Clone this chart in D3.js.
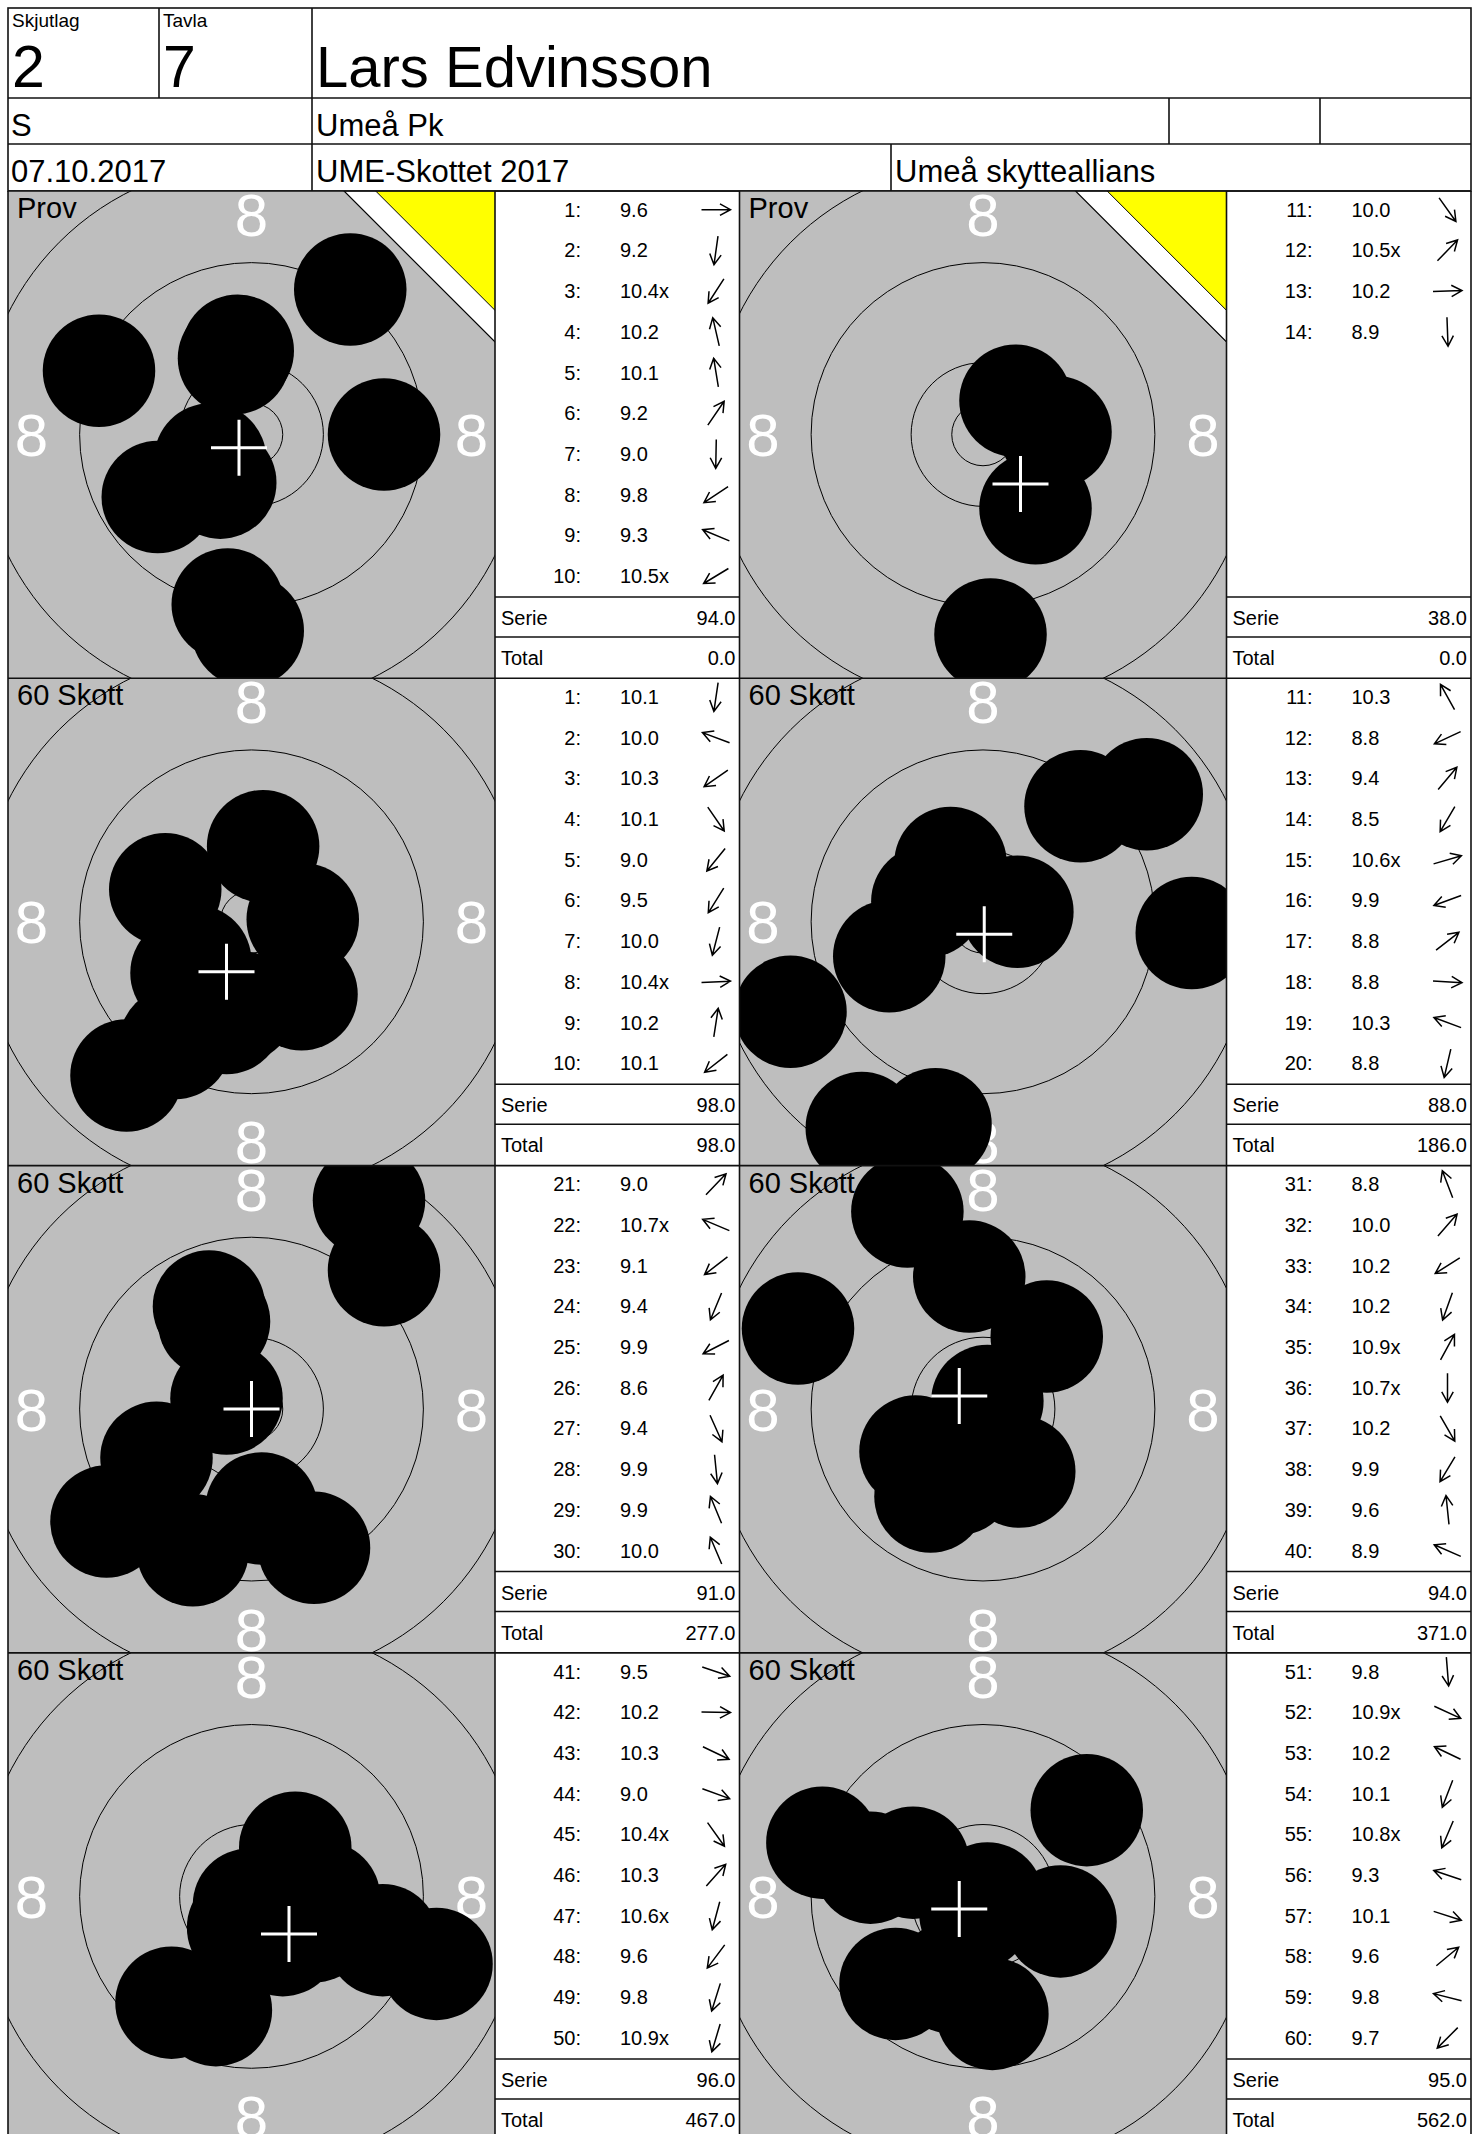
<!DOCTYPE html>
<html><head><meta charset="utf-8">
<script src="https://cdn.jsdelivr.net/npm/d3@7"></script>
<style>
body{margin:0;background:#fff}
text{font-family:"Liberation Sans",Arial,Helvetica,sans-serif;fill:#000}
</style>
</head><body>
<svg id="c" width="1478" height="2134"></svg>
<script>
// ---------- header data ----------
const headerLabels = ["Skjutlag", "Tavla"];
const headerValues = ["2", "7"];
const shooterName = "Lars Edvinsson";
const shooterClass = "S";
const clubName = "Umeå Pk";
const eventDate = "07.10.2017";
const competition = "UME-Skottet 2017";
const organizer = "Umeå skytteallians";

// ---------- panel data ----------
const panelTitles = ["Prov", "Prov", "60 Skott", "60 Skott", "60 Skott", "60 Skott", "60 Skott", "60 Skott"];
const panelSighter = [true, true, false, false, false, false, false, false];
const panelShotStart = [0, 10, 0, 10, 20, 30, 40, 50];
const panelShotCount = [10, 4, 10, 10, 10, 10, 10, 10];
const serieValues = ["94.0", "38.0", "98.0", "88.0", "91.0", "94.0", "96.0", "95.0"];
const totalValues = ["0.0", "0.0", "98.0", "186.0", "277.0", "371.0", "467.0", "562.0"];

// sighting shots: score, x (mm, right +), y (mm, up +)
const provScores = ["9.6","9.2","10.4x","10.2","10.1","9.2","9.0","9.8","9.3","10.5x","10.0","10.5x","10.2","8.9"];
const provX = [10.6,-1.9,-2.5,-1.4,-1.1,7.9,-0.3,-7.5,-12.2,-3.3,4.2,2.6,5.8,0.6];
const provY = [0.0,-13.6,-3.85,6.1,6.7,11.6,-15.7,-5.0,5.1,-2.0,-5.9,2.7,0.2,-16.0];

// match shots
const matchScores = [
 "10.1","10.0","10.3","10.1","9.0","9.5","10.0","10.4x","10.2","10.1",
 "10.3","8.8","9.4","8.5","10.6x","9.9","8.8","8.8","10.3","8.8",
 "9.0","10.7x","9.1","9.4","9.9","8.6","9.4","9.9","9.9","10.0",
 "8.8","10.0","10.2","10.2","10.9x","10.7x","10.2","9.9","9.6","8.9",
 "9.5","10.2","10.3","9.0","10.4x","10.3","10.6x","9.6","9.8","10.9x",
 "9.8","10.9x","10.2","10.1","10.8x","9.3","10.1","9.6","9.8","9.7"];
const matchX = [
 -1.0,-6.9,-4.5,4.0,-10.0,-6.1,-2.0,4.1,0.93,-5.2,
 -2.6,-15.4,7.8,-9.7,2.75,-7.5,13.1,16.7,-4.45,-3.8,
 10.6,-2.0,-11.6,-4.7,-7.6,9.4,5.0,0.8,-3.4,-3.0,
 -6.05,5.1,-5.4,-2.0,0.35,0.0,2.9,-4.2,-1.1,-14.8,
 10.5,5.8,5.0,14.8,2.5,3.5,-0.67,-6.4,-2.85,-0.2,
 0.75,0.35,-5.6,-2.5,-0.6,-12.85,6.2,8.3,-9.0,-7.0];
const matchY = [
 -6.8,2.6,-3.15,-5.8,-12.3,-9.7,-7.7,0.2,6.05,-4.1,
 4.7,-7.2,9.25,-16.5,0.8,-2.75,10.2,-0.9,1.65,-16.2,
 11.1,0.85,-9.0,-11.3,-3.9,16.7,-11.1,-7.95,8.2,7.0,
 15.8,5.8,-3.4,-5.6,0.64,-2.4,-5.0,-7.0,10.6,6.45,
 -3.5,-0.1,-2.4,-5.4,-3.5,3.9,-2.5,-8.5,-9.1,-0.67,
 -9.4,-0.16,2.7,-6.5,-1.4,4.3,-2.0,6.9,2.3,-7.0];

// mean point of impact per panel (mm)
const crossX = [-1.0, 3.0, -2.0, 0.1, 0.0, -1.9, 3.0, -1.9];
const crossY = [-1.05, -3.95, -4.0, -1.0, 0.0, 1.05, -3.0, -1.0];

// target geometry (mm): inner ten, 10, 9, 8, 7 rings
const ringRadii = [2.5, 5.75, 13.75, 21.75, 29.75];
const ringLabel = "8";
const ringLabelRadius = 17.6;
const shotRadius = 4.5;

// ---------- layout ----------
const svg = d3.select("#c");
const LINE = "#111";
const L = 8, R = 1471;
const headerY = [8, 98, 144, 191];
const T = 487;            // target square size
const TW = (R - L) / 2 - T; // table width
const rowStep = 487.3;
const halfMM = 19.48;

const defs = svg.append("defs");

// ---------- header ----------
const hdr = svg.append("g");
hdr.append("rect").attr("x", L).attr("y", headerY[0]).attr("width", R - L).attr("height", headerY[3] - headerY[0])
  .attr("fill", "none").attr("stroke", LINE).attr("stroke-width", 1.6);
[headerY[1], headerY[2]].forEach(yy => hdr.append("line").attr("x1", L).attr("x2", R).attr("y1", yy).attr("y2", yy)
  .attr("stroke", LINE).attr("stroke-width", 1.6));
const vlines = [[159, headerY[0], headerY[1]], [312, headerY[0], headerY[3]], [1169, headerY[1], headerY[2]],
  [1320, headerY[1], headerY[2]], [891, headerY[2], headerY[3]]];
vlines.forEach(v => hdr.append("line").attr("x1", v[0]).attr("x2", v[0]).attr("y1", v[1]).attr("y2", v[2])
  .attr("stroke", LINE).attr("stroke-width", 1.6));

const hx = [12, 163];
headerLabels.forEach((t, i) => hdr.append("text").attr("x", hx[i]).attr("y", 27).attr("font-size", 19).text(t));
headerValues.forEach((t, i) => hdr.append("text").attr("x", hx[i]).attr("y", 87).attr("font-size", 59).text(t));
hdr.append("text").attr("x", 316).attr("y", 87).attr("font-size", 58).text(shooterName);
hdr.append("text").attr("x", 11).attr("y", 136).attr("font-size", 31).text(shooterClass);
hdr.append("text").attr("x", 316).attr("y", 136).attr("font-size", 31).text(clubName);
hdr.append("text").attr("x", 11).attr("y", 182).attr("font-size", 31).text(eventDate);
hdr.append("text").attr("x", 316).attr("y", 182).attr("font-size", 31).text(competition);
hdr.append("text").attr("x", 895).attr("y", 182).attr("font-size", 31).text(organizer);

// ---------- panels ----------
panelTitles.forEach((title, i) => {
  const r = Math.floor(i / 2), c = i % 2;
  const x0 = L + c * (T + TW);
  const y0 = headerY[3] + r * rowStep;
  const sighter = panelSighter[i];
  const scores = sighter ? provScores : matchScores;
  const xs = sighter ? provX : matchX;
  const ys = sighter ? provY : matchY;
  const idx = d3.range(panelShotStart[i], panelShotStart[i] + panelShotCount[i]);

  const sx = d3.scaleLinear().domain([-halfMM, halfMM]).range([0, T]);
  const sy = d3.scaleLinear().domain([halfMM, -halfMM]).range([0, T]);
  const sr = d3.scaleLinear().domain([0, halfMM]).range([0, T / 2]);

  const clipId = "clip" + i;
  defs.append("clipPath").attr("id", clipId).append("rect").attr("width", T).attr("height", T);

  const tg = svg.append("g").attr("transform", `translate(${x0},${y0})`).attr("clip-path", `url(#${clipId})`);
  tg.append("rect").attr("width", T).attr("height", T).attr("fill", "#bebebe");
  tg.append("text").attr("x", 9).attr("y", 27).attr("font-size", 29).text(title);

  tg.selectAll("circle.ring").data(ringRadii).join("circle").attr("class", "ring")
    .attr("cx", sx(0)).attr("cy", sy(0)).attr("r", d => sr(d))
    .attr("fill", "none").attr("stroke", "#000").attr("stroke-width", 1);

  const labelPos = [[0, ringLabelRadius], [0, -ringLabelRadius], [-ringLabelRadius, 0], [ringLabelRadius, 0]];
  tg.selectAll("text.rl").data(labelPos).join("text").attr("class", "rl")
    .attr("x", d => sx(d[0])).attr("y", d => sy(d[1]) + 21.5)
    .attr("text-anchor", "middle").attr("font-size", 60).style("fill", "#fff").text(ringLabel);

  if (sighter) {
    const a = T * 0.31, b = T * 0.245;
    tg.append("path").attr("d", `M${T - a},0 L${T + 2},0 L${T + 2},${a + 2} Z`)
      .attr("fill", "#fff").attr("stroke", "#000").attr("stroke-width", 1.2);
    tg.append("path").attr("d", `M${T - b},0 L${T + 2},0 L${T + 2},${b + 2} Z`)
      .attr("fill", "#ffff00").attr("stroke", "#000").attr("stroke-width", 1);
  }

  tg.selectAll("circle.shot").data(idx).join("circle").attr("class", "shot")
    .attr("cx", k => sx(xs[k])).attr("cy", k => sy(ys[k])).attr("r", sr(shotRadius)).attr("fill", "#000");

  const cxp = sx(crossX[i]), cyp = sy(crossY[i]), arm = 28;
  tg.append("path").attr("d", `M${cxp - arm},${cyp} H${cxp + arm} M${cxp},${cyp - arm} V${cyp + arm}`)
    .attr("stroke", "#fff").attr("stroke-width", 3).attr("fill", "none");

  // ---------- table ----------
  const tx = x0 + T;
  const tb = svg.append("g").attr("transform", `translate(${tx},${y0})`);
  const rowY = k => 25.7 + 40.7 * k;
  idx.forEach((k, j) => {
    tb.append("text").attr("x", 86).attr("y", rowY(j)).attr("text-anchor", "end").attr("font-size", 20).text((k + 1) + ":");
    tb.append("text").attr("x", 125).attr("y", rowY(j)).attr("font-size", 20).text(scores[k]);
    const ang = Math.atan2(-ys[k], xs[k]);
    const acx = 221, acy = rowY(j) - 7, half = 14.5, hl = 12, ha = 0.5;
    const tipX = acx + Math.cos(ang) * half, tipY = acy + Math.sin(ang) * half;
    const tailX = acx - Math.cos(ang) * half, tailY = acy - Math.sin(ang) * half;
    const h1x = tipX - Math.cos(ang - ha) * hl, h1y = tipY - Math.sin(ang - ha) * hl;
    const h2x = tipX - Math.cos(ang + ha) * hl, h2y = tipY - Math.sin(ang + ha) * hl;
    tb.append("path").attr("d", `M${tailX},${tailY} L${tipX},${tipY} M${h1x},${h1y} L${tipX},${tipY} L${h2x},${h2y}`)
      .attr("fill", "none").attr("stroke", "#000").attr("stroke-width", 1.5).attr("stroke-linejoin", "miter");
  });
  [406, 446].forEach(yy => tb.append("line").attr("x1", 0).attr("x2", TW).attr("y1", yy).attr("y2", yy)
    .attr("stroke", LINE).attr("stroke-width", 1.5));
  tb.append("text").attr("x", 6).attr("y", 434).attr("font-size", 20).text("Serie");
  tb.append("text").attr("x", TW - 4).attr("y", 434).attr("text-anchor", "end").attr("font-size", 20).text(serieValues[i]);
  tb.append("text").attr("x", 6).attr("y", 474).attr("font-size", 20).text("Total");
  tb.append("text").attr("x", TW - 4).attr("y", 474).attr("text-anchor", "end").attr("font-size", 20).text(totalValues[i]);
});

// ---------- panel grid lines ----------
const grid = svg.append("g");
const bottom = headerY[3] + 4 * rowStep;
[L, L + T, L + T + TW, L + 2 * T + TW, R].forEach(xx => grid.append("line").attr("x1", xx).attr("x2", xx)
  .attr("y1", headerY[3]).attr("y2", bottom).attr("stroke", LINE).attr("stroke-width", 1.6));
d3.range(4).forEach(r => {
  const yy = headerY[3] + r * rowStep;
  grid.append("line").attr("x1", L).attr("x2", R).attr("y1", yy).attr("y2", yy).attr("stroke", LINE).attr("stroke-width", 1.6);
});
</script>
</body></html>
